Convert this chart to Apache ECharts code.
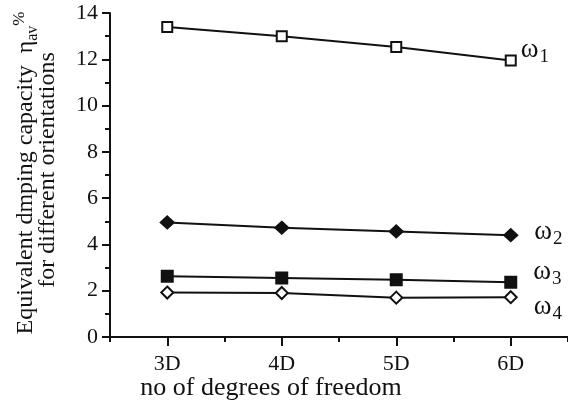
<!DOCTYPE html>
<html>
<head>
<meta charset="utf-8">
<script src="https://cdn.jsdelivr.net/npm/echarts@6/dist/echarts.min.js"></script>
<style>
html,body{margin:0;padding:0;background:#fff;}
#chart{width:568px;height:420px;}
</style>
</head>
<body>
<div id="chart"></div>
<script>
const categories = ['3D', '4D', '5D', '6D'];
const omega1 = [13.4, 13.0, 12.53, 11.95];
const omega2 = [4.95, 4.72, 4.56, 4.4];
const omega3 = [2.62, 2.55, 2.47, 2.37];
const omega4 = [1.92, 1.9, 1.7, 1.72];
const seriesSubs = ['1', '2', '3', '4'];
const yMin = 0, yMax = 14, yStep = 2;
const xTitle = 'no of degrees of freedom';
const yTitle1 = 'Equivalent dmping capacity  ';
const yTitle2 = 'for different orientations';

const FONT = '"Liberation Serif", "Times New Roman", serif';
const INK = '#111';

const chart = echarts.init(document.getElementById('chart'), null, {renderer: 'canvas'});

function endLabel(sub, offset) {
  return {
    show: true,
    position: 'right',
    distance: 4,
    offset: offset,
    formatter: '{w|ω}{s|' + sub + '}',
    rich: {
      w: {fontFamily: FONT, fontSize: 27, color: INK, verticalAlign: 'top', lineHeight: 30},
      s: {fontFamily: FONT, fontSize: 19, color: INK, verticalAlign: 'bottom', lineHeight: 30, padding: [14, 0, 0, 1]}
    }
  };
}

function buildData(values, sub, offset) {
  return values.map((v, i) => i === values.length - 1
    ? {value: v, label: endLabel(sub, offset)}
    : v);
}

const specs = [
  {vals: omega1, symbol: 'rect', size: [10, 10], fill: '#fff', offset: [0, -9]},
  {vals: omega2, symbol: 'diamond', size: [13, 12], fill: INK, offset: [12, -2]},
  {vals: omega3, symbol: 'rect', size: [11, 11], fill: INK, offset: [12, -9]},
  {vals: omega4, symbol: 'diamond', size: [12, 12], fill: '#fff', offset: [12, 11]}
];

const series = specs.map((s, k) => ({
  type: 'line',
  xAxisIndex: 0,
  yAxisIndex: 0,
  data: buildData(s.vals, seriesSubs[k], s.offset),
  symbol: s.symbol,
  symbolSize: s.size,
  showAllSymbol: true,
  lineStyle: {color: INK, width: 2},
  itemStyle: {color: s.fill, borderColor: INK, borderWidth: 2},
  label: {show: false},
  emphasis: {disabled: true},
  animation: false,
  z: 3
}));

const option = {
  backgroundColor: '#fff',
  animation: false,
  grid: {left: 110, top: 13, width: 463, height: 324, containLabel: false},
  xAxis: [
    {
      type: 'category',
      data: categories,
      boundaryGap: true,
      position: 'bottom',
      axisLine: {show: true, lineStyle: {color: INK, width: 2}},
      axisTick: {show: true, alignWithLabel: true, length: 9, lineStyle: {color: INK, width: 2}},
      axisLabel: {fontFamily: FONT, fontSize: 22, color: INK, margin: 16},
      splitLine: {show: false}
    },
    {
      type: 'category',
      data: categories,
      boundaryGap: true,
      position: 'bottom',
      offset: 0,
      axisLine: {show: false},
      axisTick: {show: true, alignWithLabel: false, length: 5, lineStyle: {color: INK, width: 2}},
      axisLabel: {show: false},
      splitLine: {show: false}
    }
  ],
  yAxis: {
    type: 'value',
    min: yMin,
    max: yMax,
    interval: yStep,
    axisLine: {show: true, lineStyle: {color: INK, width: 2}},
    axisTick: {show: true, length: 8, lineStyle: {color: INK, width: 2}},
    minorTick: {show: true, splitNumber: 2, length: 5, lineStyle: {color: INK, width: 2}},
    axisLabel: {fontFamily: FONT, fontSize: 22, color: INK, margin: 12},
    splitLine: {show: false},
    minorSplitLine: {show: false}
  },
  graphic: [
    {
      type: 'text',
      x: 271, y: 388,
      style: {text: xTitle, font: '26px ' + FONT, fill: INK, align: 'center', verticalAlign: 'middle'}
    },
    {
      type: 'text',
      x: 26, y: 173,
      rotation: Math.PI / 2,
      style: {
        text: yTitle1 + '{e|η}{s|av}{p|%}',
        font: '24px ' + FONT,
        fill: INK,
        align: 'center',
        verticalAlign: 'middle',
        rich: {
          e: {fontFamily: FONT, fontSize: 24, fill: INK, verticalAlign: 'middle'},
          s: {fontFamily: FONT, fontSize: 16, fill: INK, verticalAlign: 'bottom', lineHeight: 30},
          p: {fontFamily: FONT, fontSize: 17, fill: INK, verticalAlign: 'top', lineHeight: 30}
        }
      }
    },
    {
      type: 'text',
      x: 48, y: 170,
      rotation: Math.PI / 2,
      style: {text: yTitle2, font: '24px ' + FONT, fill: INK, align: 'center', verticalAlign: 'middle'}
    }
  ],
  series: series
};

chart.setOption(option);
</script>
</body>
</html>
